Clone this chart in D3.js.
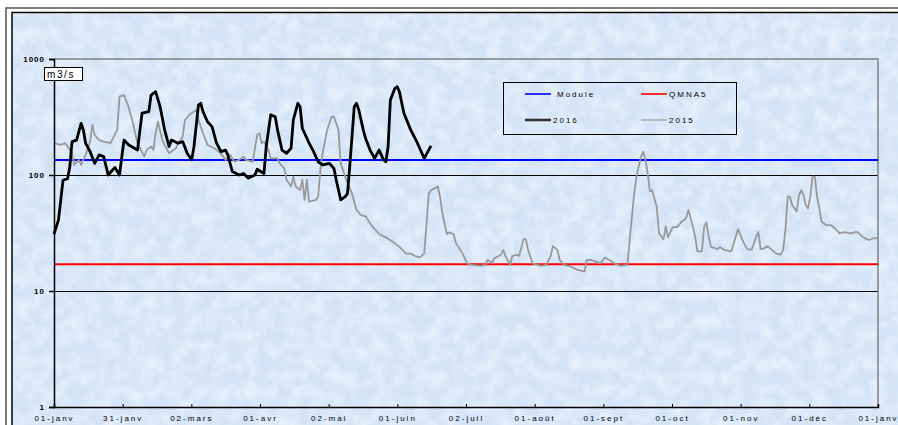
<!DOCTYPE html>
<html><head><meta charset="utf-8">
<script src="https://cdn.jsdelivr.net/npm/d3@7"></script>
<style>
html,body{margin:0;padding:0;background:#fff;}
svg{display:block;font-family:Arial,"Liberation Sans",sans-serif;}
</style></head>
<body><svg id="c" width="898" height="425"></svg>
<script>
// ---- data ----
const xTickLabels = ["01-janv","31-janv","02-mars","01-avr","02-mai","01-juin","02-juil","01-août","01-sept","01-oct","01-nov","01-déc","01-janv"];
const yTickValues = [1,10,100,1000];
const moduleValue = 135;
const qmna5Value = 17;
// [day of year, flow m3/s]
const series2016 = [[0,31],[2,41],[3,61],[4,90],[6,93],[7,118],[8,194],[10,200],[12,279],[13,245],[14,188],[16,159],[18,126],[20,149],[22,144],[24,100],[26,111],[27,116],[29,100],[31,200],[33,182],[37,164],[39,341],[42,352],[43,489],[45,523],[47,388],[49,245],[51,176],[52,200],[55,188],[57,194],[59,154],[61,135],[62,176],[64,402],[65,415],[66,352],[68,288],[70,261],[72,188],[74,159],[76,164],[77,149],[79,107],[82,100],[84,103],[86,94],[89,100],[90,112],[93,103],[94,176],[96,330],[98,318],[99,245],[101,164],[103,154],[105,170],[106,298],[108,415],[109,388],[110,253],[113,188],[115,159],[117,130],[119,122],[122,126],[124,114],[125,91],[127,61],[129,65],[130,69],[131,118],[132,214],[133,388],[134,415],[135,364],[137,245],[138,207],[140,164],[142,139],[144,164],[146,135],[147,130],[148,176],[149,443],[151,559],[152,577],[153,523],[155,341],[158,245],[161,188],[164,139],[167,178]];
const series2015 = [[0,188],[3,182],[5,188],[6,176],[8,154],[9,122],[11,135],[12,122],[13,135],[14,149],[16,194],[17,270],[18,222],[20,200],[22,194],[25,188],[28,245],[29,473],[31,489],[33,388],[35,279],[37,188],[40,144],[41,164],[43,176],[44,164],[45,229],[46,288],[48,200],[49,182],[51,154],[54,170],[55,188],[57,214],[58,298],[60,330],[63,364],[64,298],[66,229],[68,182],[71,170],[73,159],[75,144],[76,135],[78,149],[80,130],[82,135],[84,144],[85,135],[88,130],[90,222],[91,229],[92,188],[93,194],[95,164],[96,139],[99,139],[100,126],[102,114],[103,91],[105,80],[106,97],[107,80],[109,74],[110,91],[111,61],[112,91],[113,59],[116,61],[117,65],[118,111],[119,154],[121,245],[123,318],[124,318],[126,245],[127,126],[130,85],[132,69],[134,50],[136,45],[138,44],[141,36],[144,31],[147,29],[150,26.6],[153,24],[156,21],[158,21],[160,20],[162,19.5],[164,21],[165,38],[166,69],[167,74],[169,77],[170,80],[171,65],[172,47],[174,31],[175,32],[177,31],[178,26],[181,21],[183,17.3],[185,16.8],[189,16.5],[191,16.8],[192,18.5],[194,17.5],[195,19.2],[197,20],[198,20.6],[199,22.6],[200,20],[202,16.8],[203,20],[205,20.6],[206,20],[208,28],[209,28],[210,22.6],[212,17.3],[214,16.8],[216,16.5],[218,16.8],[220,20],[221,24.4],[223,22.6],[224,18.5],[226,16.8],[229,16.2],[232,15.2],[235,14.7],[236,18.5],[238,18.5],[240,17.9],[242,17.3],[244,19.4],[246,18.5],[249,17],[251,16.5],[254,16.8],[255,27.5],[257,69],[258,97],[260,144],[261,159],[262,135],[263,103],[264,72],[265,74],[267,53],[268,31.4],[270,28],[271,36],[272,29],[274,35.5],[276,35.5],[278,39.6],[280,42.3],[281,50],[283,36],[284,29.4],[285,22],[287,22],[288,36],[289,39],[290,29.4],[291,24],[294,23],[295,24],[297,22.6],[300,22],[302,29.4],[303,34.2],[305,27.5],[307,23],[309,22.6],[311,29.4],[312,32.2],[313,23],[314,23],[316,24.4],[318,22.6],[320,21],[322,20.6],[323,22.6],[324,33.7],[325,65],[326,65],[327,55],[329,48.5],[330,67],[331,74],[332,67],[333,55],[334,51.5],[335,65],[336,97],[337,97],[338,65],[339,51.5],[340,39.6],[342,37],[344,37],[346,34.6],[348,31.4],[350,32.2],[353,31.4],[355,32.2],[356,32.2],[358,29.4],[360,28],[361,27.5],[363,28.5],[365,28.5]];
const legendItems = [
  {label:"Module", color:"#0000ff", w:1.6},
  {label:"QMNA5", color:"#ff0000", w:1.6},
  {label:"2016", color:"#333333", w:2.6},
  {label:"2015", color:"#999999", w:1.2}
];

// ---- layout ----
const svg = d3.select("#c");
const L = 54, R = 878, T = 59, B = 407;
const x = d3.scaleLinear().domain([0,365]).range([L,R]);
const y = d3.scaleLog().domain([1,1000]).range([B,T]);

// texture
const defs = svg.append("defs");
const f = defs.append("filter").attr("id","tex").attr("x",0).attr("y",0).attr("width","100%").attr("height","100%");
f.append("feTurbulence").attr("type","fractalNoise").attr("baseFrequency","0.07").attr("numOctaves",3).attr("seed",5).attr("result","n");
f.append("feColorMatrix").attr("in","n").attr("type","matrix")
  .attr("values","0 0 0 0 1  0 0 0 0 1  0 0 0 0 1  1.8 0 0 0 -0.6").attr("result","w");
f.append("feComposite").attr("in","w").attr("in2","SourceGraphic").attr("operator","in");

svg.append("rect").attr("x",6).attr("y",8).attr("width",900).attr("height",430)
  .attr("fill","#fff").attr("stroke","#555").attr("stroke-width",1.5);
svg.append("rect").attr("x",12).attr("y",12.5).attr("width",900).attr("height",430)
  .attr("fill","#d3e4f7").attr("stroke","#000").attr("stroke-width",1.5);
svg.append("rect").attr("x",13).attr("y",13).attr("width",890).attr("height",420)
  .attr("fill","#d3e4f7").attr("filter","url(#tex)").attr("opacity",0.5);

// gridlines (10, 100)
svg.append("g").selectAll("line").data([10,100]).join("line")
  .attr("x1",L).attr("x2",R).attr("y1",d=>y(d)+0.5).attr("y2",d=>y(d)+0.5)
  .attr("stroke","#000").attr("stroke-width",1).attr("shape-rendering","crispEdges");
// plot border top/right
svg.append("path").attr("d",`M${L},${y(1000)}H${R}V${B}`).attr("fill","none")
  .attr("stroke","#808080").attr("stroke-width",1.5);

// reference lines
svg.append("line").attr("x1",L).attr("x2",R).attr("y1",y(moduleValue)).attr("y2",y(moduleValue))
  .attr("stroke","#0000ff").attr("stroke-width",2);
svg.append("line").attr("x1",L).attr("x2",R).attr("y1",y(qmna5Value)).attr("y2",y(qmna5Value))
  .attr("stroke","#ff0000").attr("stroke-width",2);

const line = d3.line().x(d=>x(d[0])).y(d=>y(d[1]));
svg.append("path").datum(series2015).attr("d",line).attr("fill","none")
  .attr("stroke","#999999").attr("stroke-width",1.8).attr("stroke-linejoin","round");
svg.append("path").datum(series2016).attr("d",line).attr("fill","none")
  .attr("stroke","#000").attr("stroke-width",2.8).attr("stroke-linejoin","round");

// axes
const xAxis = d3.axisBottom(x).tickValues(d3.range(xTickLabels.length).map(i=>i*365/12))
  .tickFormat((d,i)=>xTickLabels[i]).tickSize(-3).tickPadding(8);
const gx = svg.append("g").attr("transform",`translate(0,${B})`).call(xAxis);
gx.select(".domain").attr("stroke","#000").attr("stroke-width",1.5);
gx.selectAll(".tick line").attr("stroke","#000").attr("stroke-width",1);
gx.selectAll("text").attr("font-size",8).attr("fill","#000").attr("letter-spacing","2px")
  .attr("font-family","Arial,'Liberation Sans',sans-serif");

const yAxis = d3.axisLeft(y).tickValues(yTickValues).tickFormat(d3.format("d")).tickSize(5).tickPadding(4);
const gy = svg.append("g").attr("transform",`translate(${L},0)`).call(yAxis);
gy.select(".domain").attr("stroke","#000").attr("stroke-width",1.5);
gy.selectAll(".tick line").attr("stroke","#000").attr("stroke-width",1.5);
gy.selectAll("text").attr("font-size",8).attr("font-weight","bold").attr("fill","#000")
  .attr("letter-spacing","1px").attr("font-family","Arial,'Liberation Sans',sans-serif");

// unit label
svg.append("rect").attr("x",44.5).attr("y",67.5).attr("width",38).attr("height",13)
  .attr("fill","#fff").attr("stroke","#000").attr("stroke-width",1);
svg.append("text").attr("x",47).attr("y",77.5).attr("font-size",10).attr("letter-spacing","1.6px")
  .attr("fill","#000").text("m3/s");

// legend
const lg = svg.append("g");
lg.append("rect").attr("x",503.5).attr("y",82.5).attr("width",233).attr("height",52)
  .attr("fill","none").attr("stroke","#000").attr("stroke-width",1);
const pos = [[525,94,557],[641,94,669],[525,120,553],[641,120,669]];
legendItems.forEach((it,i)=>{
  const [lx,ly,tx] = pos[i];
  lg.append("line").attr("x1",lx).attr("x2",lx+26).attr("y1",ly).attr("y2",ly)
    .attr("stroke",it.color).attr("stroke-width",it.w);
  lg.append("text").attr("x",tx).attr("y",ly+3).attr("font-size",8).attr("letter-spacing","2px")
    .attr("fill","#000").text(it.label);
});
</script></body></html>
